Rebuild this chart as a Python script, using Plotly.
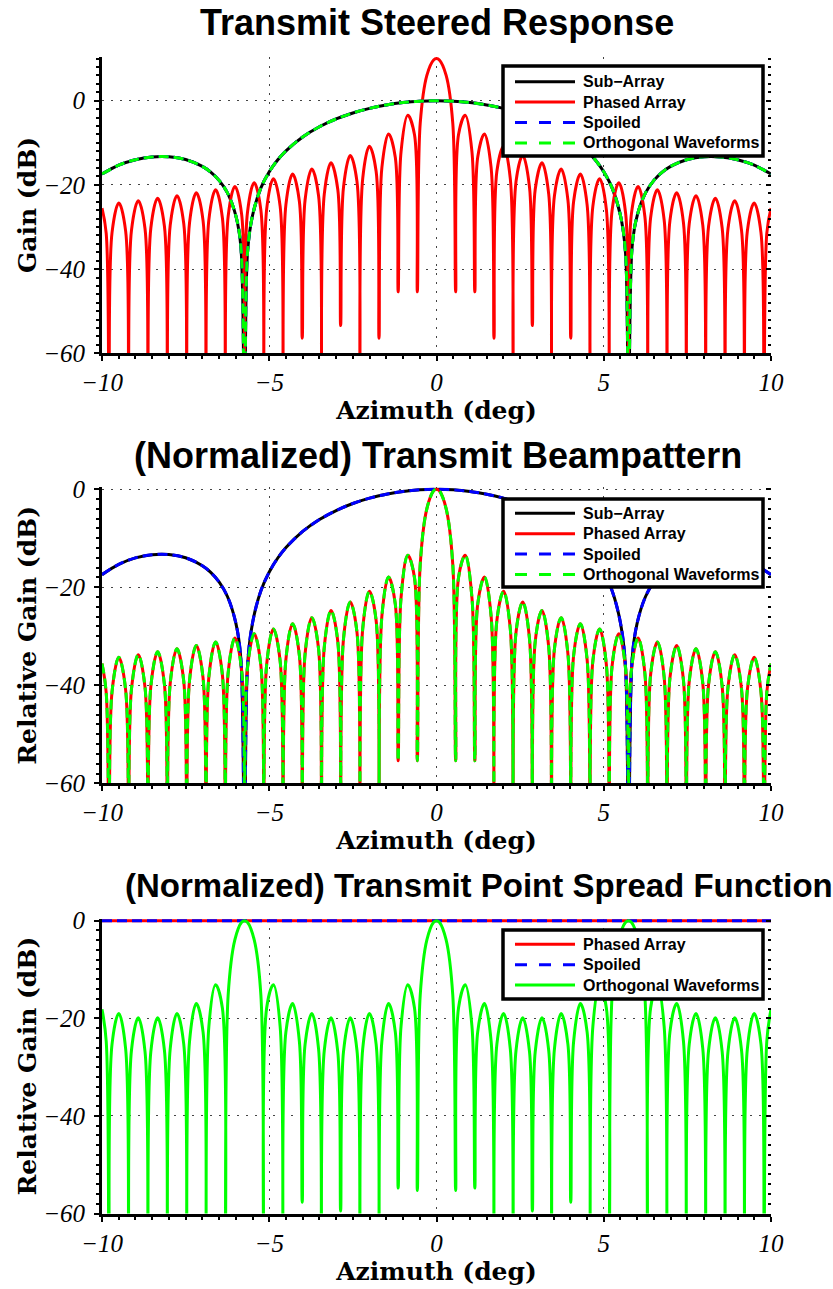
import plotly.graph_objects as go

# ---------------- data ----------------
# azimuth samples (deg) for the lobed patterns: nulls, lobe shoulders and lobe peaks
az = [-10.0, -9.874,
      -9.787, -9.700, -9.497, -9.293,
      -9.206, -9.119, -8.916, -8.714,
      -8.627, -8.540, -8.337, -8.134,
      -8.048, -7.961, -7.758, -7.556,
      -7.469, -7.383, -7.181, -6.979,
      -6.892, -6.805, -6.604, -6.402,
      -6.315, -6.229, -6.027, -5.826,
      -5.739, -5.653, -5.451, -5.250,
      -5.164, -5.077, -4.876, -4.675,
      -4.589, -4.502, -4.301, -4.100,
      -4.014, -3.928, -3.727, -3.526,
      -3.440, -3.354, -3.153, -2.952,
      -2.866, -2.780, -2.579, -2.378,
      -2.292, -2.206, -2.006, -1.805,
      -1.719, -1.633, -1.433, -1.232,
      -1.146, -1.060, -0.859, -0.659,
      -0.573, -0.487, -0.286, -0.086,
      0.0, 0.086, 0.286, 0.487,
      0.573, 0.659, 0.859, 1.060,
      1.146, 1.232, 1.433, 1.633,
      1.719, 1.805, 2.006, 2.206,
      2.292, 2.378, 2.579, 2.780,
      2.866, 2.952, 3.153, 3.354,
      3.440, 3.526, 3.727, 3.928,
      4.014, 4.100, 4.301, 4.502,
      4.589, 4.675, 4.876, 5.077,
      5.164, 5.250, 5.451, 5.653,
      5.739, 5.826, 6.027, 6.229,
      6.315, 6.402, 6.604, 6.805,
      6.892, 6.979, 7.181, 7.383,
      7.469, 7.556, 7.758, 7.961,
      8.048, 8.134, 8.337, 8.540,
      8.627, 8.714, 8.916, 9.119,
      9.206, 9.293, 9.497, 9.700,
      9.787, 9.874, 10.0]

# Transmit steered response, phased array (dB)  (-80 = null below the axis)
phased_gain = [-25.54, -31.49,
               -80, -31.33, -24.29, -30.97,
               -80, -30.80, -23.75, -30.41,
               -80, -30.24, -23.17, -29.82,
               -80, -29.63, -22.55, -29.18,
               -80, -28.98, -21.88, -28.49,
               -80, -28.28, -21.16, -27.75,
               -80, -27.51, -20.37, -26.93,
               -80, -26.67, -19.50, -26.03,
               -80, -25.74, -18.53, -25.03,
               -80, -24.70, -17.44, -23.89,
               -56.4, -23.52, -16.20, -22.58,
               -80, -22.15, -14.75, -21.04,
               -53.4, -20.52, -13.01, -19.16,
               -80, -18.51, -10.82, -16.77,
               -56.4, -15.90, -7.90, -13.45,
               -45.4, -12.15, -3.47, -8.02,
               -45.4, -5.39, 6.08, 9.68,
               10.0, 9.68, 6.08, -5.39,
               -45.4, -8.02, -3.47, -12.15,
               -45.4, -13.45, -7.90, -15.90,
               -56.4, -16.77, -10.82, -18.51,
               -80, -19.16, -13.01, -20.52,
               -53.4, -21.04, -14.75, -22.15,
               -80, -22.58, -16.20, -23.52,
               -56.4, -23.89, -17.44, -24.70,
               -80, -25.03, -18.53, -25.74,
               -80, -26.03, -19.50, -26.67,
               -80, -26.93, -20.37, -27.51,
               -80, -27.75, -21.16, -28.28,
               -80, -28.49, -21.88, -28.98,
               -80, -29.18, -22.55, -29.63,
               -80, -29.82, -23.17, -30.24,
               -80, -30.41, -23.75, -30.80,
               -80, -30.97, -24.29, -31.33,
               -80, -31.49, -25.54]

# Normalized transmit beampattern, phased array / orthogonal waveforms (dB)
beam_rel = [-35.54, -41.49,
            -80, -41.33, -34.29, -40.97,
            -80, -40.80, -33.75, -40.41,
            -80, -40.24, -33.17, -39.82,
            -80, -39.63, -32.55, -39.18,
            -80, -38.98, -31.88, -38.49,
            -80, -38.28, -31.16, -37.75,
            -80, -37.51, -30.37, -36.93,
            -80, -36.67, -29.50, -36.03,
            -80, -35.74, -28.53, -35.03,
            -80, -34.70, -27.44, -33.89,
            -80, -33.52, -26.20, -32.58,
            -80, -32.15, -24.75, -31.04,
            -80, -30.52, -23.01, -29.16,
            -80, -28.51, -20.82, -26.77,
            -80, -25.90, -17.90, -23.45,
            -55.4, -22.15, -13.47, -18.02,
            -55.4, -15.39, -3.92, -0.32,
            0.0, -0.32, -3.92, -15.39,
            -55.4, -18.02, -13.47, -22.15,
            -55.4, -23.45, -17.90, -25.90,
            -80, -26.77, -20.82, -28.51,
            -80, -29.16, -23.01, -30.52,
            -80, -31.04, -24.75, -32.15,
            -80, -32.58, -26.20, -33.52,
            -80, -33.89, -27.44, -34.70,
            -80, -35.03, -28.53, -35.74,
            -80, -36.03, -29.50, -36.67,
            -80, -36.93, -30.37, -37.51,
            -80, -37.75, -31.16, -38.28,
            -80, -38.49, -31.88, -38.98,
            -80, -39.18, -32.55, -39.63,
            -80, -39.82, -33.17, -40.24,
            -80, -40.41, -33.75, -40.80,
            -80, -40.97, -34.29, -41.33,
            -80, -41.49, -35.54]

# Normalized transmit point spread function, orthogonal waveforms (dB)
psf_rel = [-18.15, -24.71,
           -80, -25.30, -19.00, -26.28,
           -80, -26.55, -19.89, -26.85,
           -80, -26.85, -19.89, -26.55,
           -80, -26.28, -19.00, -25.30,
           -80, -24.71, -16.99, -22.78,
           -80, -21.65, -13.14, -17.83,
           -80, -15.29, -3.89, -0.32,
           0.0, -0.32, -3.89, -15.29,
           -80, -17.83, -13.14, -21.65,
           -80, -22.78, -16.99, -24.71,
           -57.7, -25.30, -19.00, -26.28,
           -80, -26.55, -19.89, -26.85,
           -59.5, -26.85, -19.89, -26.55,
           -80, -26.28, -19.00, -25.30,
           -80, -24.71, -16.99, -22.78,
           -54.8, -21.65, -13.14, -17.83,
           -55.3, -15.29, -3.89, -0.32,
           0.0, -0.32, -3.89, -15.29,
           -55.3, -17.83, -13.14, -21.65,
           -54.8, -22.78, -16.99, -24.71,
           -80, -25.30, -19.00, -26.28,
           -80, -26.55, -19.89, -26.85,
           -59.5, -26.85, -19.89, -26.55,
           -80, -26.28, -19.00, -25.30,
           -57.7, -24.71, -16.99, -22.78,
           -80, -21.65, -13.14, -17.83,
           -80, -15.29, -3.89, -0.32,
           0.0, -0.32, -3.89, -15.29,
           -80, -17.83, -13.14, -21.65,
           -80, -22.78, -16.99, -24.71,
           -80, -25.30, -19.00, -26.28,
           -80, -26.55, -19.89, -26.85,
           -80, -26.85, -19.89, -26.55,
           -80, -26.28, -19.00, -25.30,
           -80, -24.71, -18.15]

# Sub-array (and spoiled / orthogonal-waveform steered) pattern
az_sub = [-10, -9.5, -9, -8.5, -8, -7.5, -7, -6.75, -6.5, -6.25, -6, -5.85, -5.739,
          -5.65, -5.5, -5.25, -5, -4.75, -4.5, -4, -3.5, -3, -2.5, -2, -1.5, -1, -0.5,
          0, 0.5, 1, 1.5, 2, 2.5, 3, 3.5, 4, 4.5, 4.75, 5, 5.25, 5.5, 5.65, 5.739,
          5.85, 6, 6.25, 6.5, 6.75, 7, 7.5, 8, 8.5, 9, 9.5, 10]
sub_db = [-17.43, -15.32, -14.01, -13.36, -13.32, -13.98, -15.61, -16.97, -18.92, -21.88,
          -27.28, -34.5, -80, -36.07, -27.28, -20.71, -16.89, -14.08, -11.90, -8.61,
          -6.19, -4.34, -2.91, -1.82, -1.00, -0.44, -0.11, 0.0, -0.11, -0.44, -1.00,
          -1.82, -2.91, -4.34, -6.19, -8.61, -11.90, -14.08, -16.89, -20.71, -27.28,
          -36.07, -80, -34.5, -27.28, -21.88, -18.92, -16.97, -15.61, -13.98, -13.32,
          -13.36, -14.01, -15.32, -17.43]

# Point spread function of phased array and spoiled beam (flat at 0 dB)
az_flat = [-10, 10]
flat_db = [0.0, 0.0]

x_ticks = [-10, -5, 0, 5, 10]
y_ticks = [-60, -40, -20, 0]

titles = ["Transmit Steered Response",
          "(Normalized) Transmit Beampattern",
          "(Normalized) Transmit Point Spread Function"]
y_titles = ["Gain (dB)", "Relative Gain (dB)", "Relative Gain (dB)"]
x_title = "Azimuth (deg)"

# ---------------- styling ----------------
W, H = 833, 1289
RED, GREEN, BLUE, BLACK = "#ff0000", "#00ff00", "#0000ff", "#000000"
DASH = "10px,5px"
LEG_DASH = "12px,12px"


def trace(x, y, name, color, dash, k, smooth=True):
    return go.Scatter(
        x=x, y=y, name=name, mode="lines",
        xaxis="x" if k == 1 else f"x{k}", yaxis="y" if k == 1 else f"y{k}",
        showlegend=False, hoverinfo="skip",
        line=dict(color=color, width=3, dash=dash,
                  shape="spline" if smooth else "linear", smoothing=1.0),
    )


fig = go.Figure()
# panel 1
fig.add_trace(trace(az_sub, sub_db, "Sub−Array", BLACK, "solid", 1))
fig.add_trace(trace(az, phased_gain, "Phased Array", RED, "solid", 1))
fig.add_trace(trace(az_sub, sub_db, "Spoiled", BLUE, DASH, 1))
fig.add_trace(trace(az_sub, sub_db, "Orthogonal Waveforms", GREEN, DASH, 1))
# panel 2
fig.add_trace(trace(az_sub, sub_db, "Sub−Array", BLACK, "solid", 2))
fig.add_trace(trace(az, beam_rel, "Phased Array", RED, "solid", 2))
fig.add_trace(trace(az_sub, sub_db, "Spoiled", BLUE, DASH, 2))
fig.add_trace(trace(az, beam_rel, "Orthogonal Waveforms", GREEN, DASH, 2))
# panel 3
fig.add_trace(trace(az_flat, flat_db, "Phased Array", RED, "solid", 3, smooth=False))
fig.add_trace(trace(az_flat, flat_db, "Spoiled", BLUE, DASH, 3, smooth=False))
fig.add_trace(trace(az, psf_rel, "Orthogonal Waveforms", GREEN, "solid", 3))

xdom = [102 / W, 771 / W]
ydoms = [[1 - 353.3 / H, 1 - 56.7 / H],
         [1 - 783.3 / H, 1 - 487.3 / H],
         [1 - 1213.5 / H, 1 - 918.7 / H]]
yranges = [[-60, 10.45], [-60, 0.4], [-60, 0.4]]

tickfont = dict(family="Liberation Serif", size=25, color="black", style="italic")
axtitlefont = dict(family="DejaVu Serif", size=25, color="black", weight="bold")
common = dict(showline=True, linewidth=3, linecolor="black", automargin=False,
              ticks="outside", ticklen=5, tickwidth=2, tickcolor="black",
              showgrid=True, gridcolor="#444444", griddash="2px,7px", gridwidth=1,
              zeroline=False, tickfont=tickfont, fixedrange=True)

layout = dict(width=W, height=H, margin=dict(l=0, r=0, t=0, b=0),
              paper_bgcolor="white", plot_bgcolor="white", autosize=False,
              showlegend=False, annotations=[], shapes=[])

for i in range(3):
    k = i + 1
    xs = "" if k == 1 else str(k)
    layout[f"xaxis{xs}"] = dict(
        common, domain=xdom, anchor=f"y{xs}", range=[-10, 10], tickvals=x_ticks,
        ticklabelstandoff=0,
        title=dict(text=x_title, font=axtitlefont, standoff=0),
        minor=dict(dtick=0.5, ticks="outside", ticklen=3, tickwidth=2,
                   tickcolor="black", showgrid=False))
    layout[f"yaxis{xs}"] = dict(
        common, domain=ydoms[i], anchor=f"x{xs}", range=yranges[i], tickvals=y_ticks,
        ticklabelstandoff=4,
        title=dict(text=y_titles[i], font=axtitlefont, standoff=0),
        minor=dict(dtick=2, ticks="outside", ticklen=3, tickwidth=2,
                   tickcolor="black", showgrid=False))
    # mirrored inner ticks on the right-hand side of each panel (no axis line)
    layout[f"yaxis{k + 3}"] = dict(
        overlaying=f"y{xs}", side="right", anchor=f"x{xs}", range=yranges[i],
        tickvals=y_ticks, showticklabels=False, showline=False, showgrid=False,
        zeroline=False, automargin=False, fixedrange=True,
        ticks="inside", ticklen=5, tickwidth=2, tickcolor="black",
        minor=dict(dtick=2, ticks="inside", ticklen=3, tickwidth=2,
                   tickcolor="black", showgrid=False))
    fig.add_trace(go.Scatter(x=[], y=[], xaxis=f"x{xs}", yaxis=f"y{k + 3}",
                             showlegend=False, hoverinfo="skip"))

title_cfg = [(22, 436.5, 36), (455, 438, 36), (885, 479, 33)]
for i in range(3):
    ty, tx, ts = title_cfg[i]
    layout["annotations"].append(dict(
        text=titles[i], xref="paper", yref="paper", x=tx / W, y=1 - ty / H,
        xanchor="center", yanchor="middle", showarrow=False,
        font=dict(family="Liberation Sans", size=ts, color="black", weight="bold")))


# ---- legends (box, line samples, labels) ----
def px(x):
    return x / W


def py(y):
    return 1 - y / H


legend_specs = [
    (66, 156, 81.7, [("Sub−Array", BLACK, "solid"), ("Phased Array", RED, "solid"),
                     ("Spoiled", BLUE, LEG_DASH), ("Orthogonal Waveforms", GREEN, LEG_DASH)]),
    (499, 587, 513.3, [("Sub−Array", BLACK, "solid"), ("Phased Array", RED, "solid"),
                       ("Spoiled", BLUE, LEG_DASH), ("Orthogonal Waveforms", GREEN, LEG_DASH)]),
    (930, 999, 944.3, [("Phased Array", RED, "solid"), ("Spoiled", BLUE, LEG_DASH),
                       ("Orthogonal Waveforms", GREEN, "solid")]),
]
for top, bot, first, items in legend_specs:
    layout["shapes"].append(dict(
        type="rect", xref="paper", yref="paper", x0=px(503), x1=px(763),
        y0=py(bot), y1=py(top), line=dict(color="black", width=3.5),
        fillcolor="white", layer="above"))
    for j, (label, color, dash) in enumerate(items):
        yy = first + 20.4 * j
        layout["shapes"].append(dict(
            type="line", xref="paper", yref="paper", x0=px(515), x1=px(575),
            y0=py(yy), y1=py(yy), line=dict(color=color, width=3, dash=dash),
            layer="above"))
        layout["annotations"].append(dict(
            text=label, xref="paper", yref="paper", x=px(581), y=py(yy),
            xanchor="left", yanchor="middle", showarrow=False,
            font=dict(family="Liberation Sans", size=16, color="black", weight="bold")))

fig.update_layout(**layout)
fig.write_html("out.html", config={"displayModeBar": False})
